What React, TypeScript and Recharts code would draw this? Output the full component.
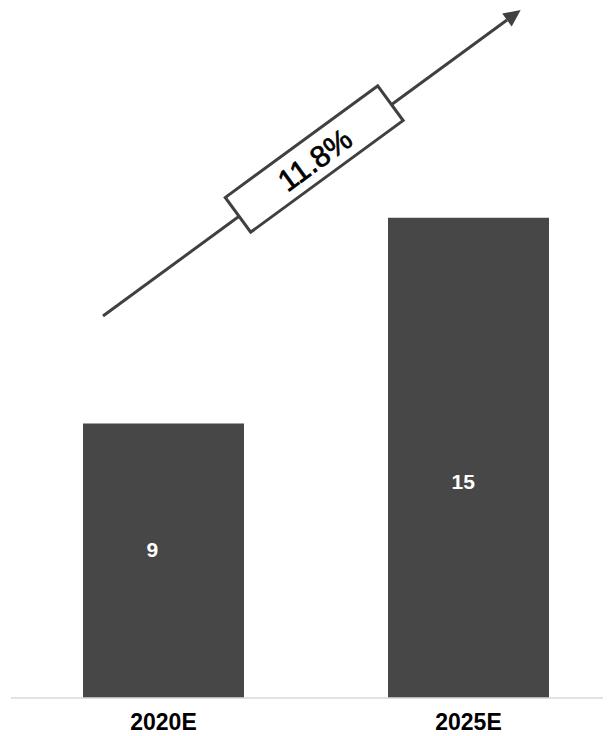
import React from 'react';
import { BarChart, Bar, XAxis, YAxis, LabelList, Customized } from 'recharts';

const years = ['2020E', '2025E'];
const marketSize = [9, 15];
const cagrLabel = '11.8%';

const data = years.map((year, i) => ({ year, value: marketSize[i] }));

const BAR_COLOR = '#474747';
const ARROW_COLOR = '#404040';

// label sits a little left of centre, vertical spot differs per bar
const labelRise = [0.46, 0.55];

const ValueLabel = (props: any) => {
  const { x, y, width, height, value, index } = props;
  const cy = y + height * labelRise[index];
  return (
    <text
      x={x + width * 0.395}
      y={cy}
      dominantBaseline="central"
      fill="#ffffff"
      fontFamily="Liberation Sans, Arial, sans-serif"
      fontWeight="bold"
      fontSize={21}
    >
      {value}
    </text>
  );
};

const YearTick = (props: any) => {
  const { x, y, payload } = props;
  return (
    <text
      x={x}
      y={y + 32}
      textAnchor="middle"
      fill="#000000"
      fontFamily="Liberation Sans, Arial, sans-serif"
      fontWeight="bold"
      fontSize={23}
    >
      {payload.value}
    </text>
  );
};

// growth arrow with the CAGR box across it
const GrowthArrow = () => {
  const start = { x: 95, y: 308 };
  const tip = { x: 512.7, y: 2 };
  const dx = tip.x - start.x;
  const dy = tip.y - start.y;
  const len = Math.sqrt(dx * dx + dy * dy);
  const ux = dx / len;
  const uy = dy / len;
  const nx = -uy;
  const ny = ux;
  const headLen = 17;
  const headHalf = 8;
  const bx = tip.x - ux * headLen;
  const by = tip.y - uy * headLen;
  const angle = (Math.atan2(dy, dx) * 180) / Math.PI;
  const cx = 306.2;
  const cy = 151;
  const boxW = 189;
  const boxH = 43;
  return (
    <g>
      <line
        x1={start.x}
        y1={start.y}
        x2={bx}
        y2={by}
        stroke={ARROW_COLOR}
        strokeWidth={3}
      />
      <polygon
        points={`${tip.x},${tip.y} ${bx + nx * headHalf},${by + ny * headHalf} ${bx - nx * headHalf},${by - ny * headHalf}`}
        fill={ARROW_COLOR}
      />
      <g transform={`translate(${cx},${cy}) rotate(${angle})`}>
        <rect
          x={-boxW / 2}
          y={-boxH / 2}
          width={boxW}
          height={boxH}
          fill="#ffffff"
          stroke={ARROW_COLOR}
          strokeWidth={3}
        />
        <text
          x={0}
          y={1}
          textAnchor="middle"
          dominantBaseline="central"
          fill="#000000"
          stroke="#000000"
          strokeWidth={0.7}
          fontFamily="Liberation Sans, Arial, sans-serif"
          fontSize={30}
        >
          {cagrLabel}
        </text>
      </g>
    </g>
  );
};

export default function App() {
  return (
    <div style={{ width: 603, overflow: 'hidden' }}>
      <BarChart
        width={613}
        height={728}
        data={data}
        margin={{ top: 141, right: 0, bottom: 0, left: 3 }}
      >
        <XAxis
          dataKey="year"
          axisLine={{ stroke: '#d9d9d9', strokeWidth: 1.5 }}
          tickLine={false}
          tickSize={0}
          tickMargin={0}
          height={38}
          tick={<YearTick />}
          interval={0}
        />
        <YAxis hide type="number" domain={[1, 17]} allowDataOverflow />
        <Bar dataKey="value" fill={BAR_COLOR} barSize={161} isAnimationActive={false}>
          <LabelList dataKey="value" content={<ValueLabel />} />
        </Bar>
        <Customized component={GrowthArrow} />
      </BarChart>
    </div>
  );
}
